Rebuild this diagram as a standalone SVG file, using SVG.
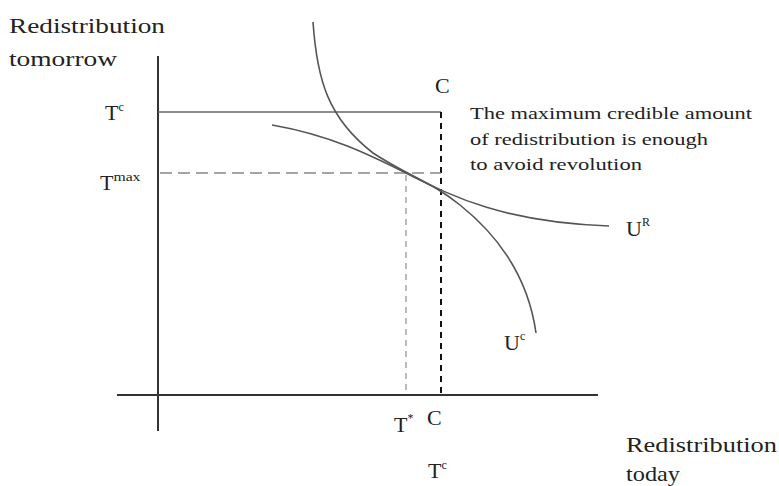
<svg xmlns="http://www.w3.org/2000/svg" width="779" height="486" viewBox="0 0 779 486">
<style>
text{font-family:"Liberation Serif","Times New Roman",serif;fill:#222;}
.lbl{font-size:22px;}
.note{font-size:16px;}
.sup{font-size:12px;}
.axis{stroke:#333;stroke-width:2;fill:none;}
.curve{stroke:#555;stroke-width:1.6;fill:none;}
</style>
<rect width="779" height="486" fill="#fff"/>
<g id="connectors">
<line class="axis" x1="158" y1="56" x2="158" y2="431"/>
<line class="axis" x1="117" y1="395" x2="598" y2="395"/>
<line x1="158" y1="112" x2="441" y2="112" stroke="#666" stroke-width="1.6"/>
<line x1="441" y1="112" x2="441" y2="395" stroke="#111" stroke-width="2" stroke-dasharray="6,5"/>
<line x1="160" y1="173" x2="441" y2="173" stroke="#888" stroke-width="1.4" stroke-dasharray="12,6"/>
<line x1="406" y1="175" x2="406" y2="395" stroke="#aaa" stroke-width="1.6" stroke-dasharray="6,5"/>
<path id="Uc" class="curve" d="M313,22 C317,80 328,118 373,153 C408,176 432,182 460,205 C510,245 530,290 536,333"/>
<path id="UR" class="curve" d="M272,125 C330,135 370,155 406,173 C450,195 500,222 609,226"/>
</g>
<g id="y-label"><text class="lbl" x="9" y="33" textLength="156" lengthAdjust="spacingAndGlyphs">Redistribution</text><text class="lbl" x="9" y="66" textLength="108" lengthAdjust="spacingAndGlyphs">tomorrow</text></g>
<g id="Tc-y"><text class="lbl" x="105" y="120">T<tspan class="sup" dy="-9">c</tspan></text></g>
<g id="Tmax-y"><text class="lbl" x="100" y="190">T<tspan class="sup" dy="-9" textLength="27" lengthAdjust="spacingAndGlyphs">max</tspan></text></g>
<g id="C-top"><text class="lbl" x="435" y="93">C</text></g>
<g id="note"><text class="note" x="470" y="119" textLength="282" lengthAdjust="spacingAndGlyphs">The maximum credible amount</text><text class="note" x="470" y="145" textLength="238" lengthAdjust="spacingAndGlyphs">of redistribution is enough</text><text class="note" x="470" y="170" textLength="172" lengthAdjust="spacingAndGlyphs">to avoid revolution</text></g>
<g id="UR-label"><text class="lbl" x="626" y="236">U<tspan class="sup" dy="-10">R</tspan></text></g>
<g id="Uc-label"><text class="lbl" x="504" y="350">U<tspan class="sup" dy="-10">c</tspan></text></g>
<g id="Tstar"><text class="lbl" x="394" y="432">T<tspan class="sup" dy="-10">*</tspan></text></g>
<g id="C-bottom"><text class="lbl" x="427" y="425">C</text></g>
<g id="Tc-x"><text class="lbl" x="428" y="478">T<tspan class="sup" dy="-9">c</tspan></text></g>
<g id="x-label"><text class="lbl" x="626" y="452" textLength="151" lengthAdjust="spacingAndGlyphs">Redistribution</text><text class="lbl" x="626" y="481" textLength="54" lengthAdjust="spacingAndGlyphs">today</text></g>
</svg>
